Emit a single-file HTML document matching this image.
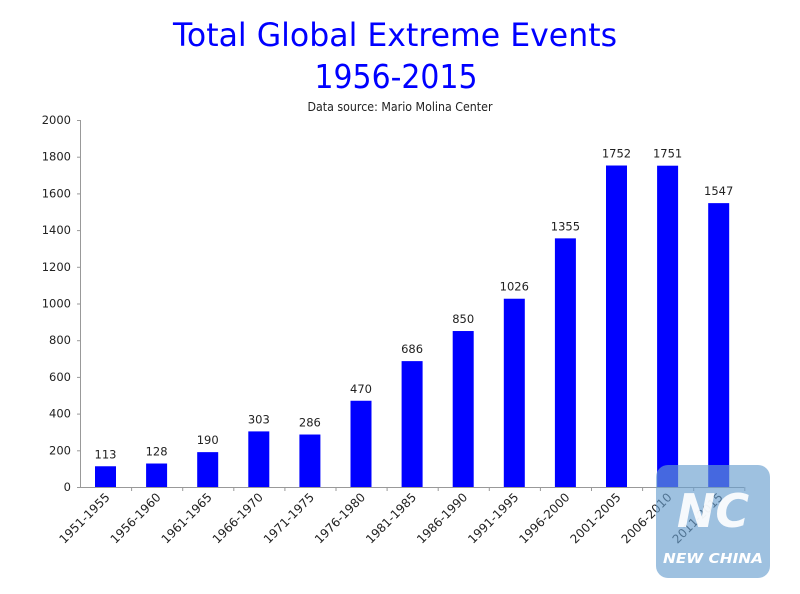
<!DOCTYPE html>
<html><head><meta charset="utf-8"><style>
html,body{margin:0;padding:0;background:#fff;}
svg{display:block;}
text{font-family:"DejaVu Sans","Liberation Sans",sans-serif;}
</style></head><body>
<svg width="800" height="594" viewBox="0 0 800 594" xmlns="http://www.w3.org/2000/svg">
<rect width="800" height="594" fill="#fff"/>
<text x="395" y="46" font-size="32" fill="#0000ff" text-anchor="middle" textLength="444" lengthAdjust="spacingAndGlyphs">Total Global Extreme Events</text>
<text x="396" y="88" font-size="33" fill="#0000ff" text-anchor="middle" textLength="163" lengthAdjust="spacingAndGlyphs">1956-2015</text>
<text x="400" y="111" font-size="12" fill="#222" text-anchor="middle" textLength="185" lengthAdjust="spacingAndGlyphs">Data source: Mario Molina Center</text>
<g stroke="#999" stroke-width="1">
<line x1="80.5" y1="120" x2="80.5" y2="487"/>
<line x1="80" y1="487.5" x2="744" y2="487.5"/>
</g>
<g id="yt" font-size="11.5" fill="#222" text-anchor="end"></g>
<g id="bars"></g>
<g id="logo">
<rect x="656" y="465" width="114" height="113" rx="12" fill="#6a9fd0" fill-opacity="0.65"/>
<text x="713" y="527" font-size="46" font-weight="bold" fill="#fff" fill-opacity="0.9" text-anchor="middle" font-style="italic">NC</text>
<text x="713" y="563" font-size="13" font-weight="bold" font-style="italic" fill="#fff" text-anchor="middle" textLength="100" lengthAdjust="spacingAndGlyphs">NEW CHINA</text>
</g>
</svg>
<script>
var ns="http://www.w3.org/2000/svg";
function el(t,a,p,txt){var e=document.createElementNS(ns,t);for(var k in a)e.setAttribute(k,a[k]);if(txt!=null)e.textContent=txt;p.appendChild(e);return e;}
var svg=document.querySelector('svg');
var yt=document.getElementById('yt');
for(var v=0;v<=2000;v+=200){var yy=487-v*0.1835;el('text',{x:71,y:yy+4},yt,String(v));el('line',{x1:77,x2:80,y1:yy+0.5,y2:yy+0.5,stroke:'#999'},svg);}
var vals=[113,128,190,303,286,470,686,850,1026,1355,1752,1751,1547];
var labs=["1951-1955","1956-1960","1961-1965","1966-1970","1971-1975","1976-1980","1981-1985","1986-1990","1991-1995","1996-2000","2001-2005","2006-2010","2011-2015"];
var g=document.getElementById('bars');
for(var i=0;i<13;i++){
 var c=105.5+51.1*i, h=vals[i]*0.1835, ty=487-h;
 el('rect',{x:c-10.5,y:ty,width:21,height:h,fill:'#0000ff'},g);
 el('text',{x:c,y:ty-8,'font-size':11.5,fill:'#222','text-anchor':'middle'},g,String(vals[i]));
 el('line',{x1:80.5+51.1*(i+1),x2:80.5+51.1*(i+1),y1:487,y2:491,stroke:'#999'},g);
 el('text',{x:c+5,y:498,'font-size':12,fill:'#222','text-anchor':'end',transform:'rotate(-45 '+(c+5)+' 498)'},g,labs[i]);
}
svg.appendChild(document.getElementById('logo'));
</script>
</body></html>
